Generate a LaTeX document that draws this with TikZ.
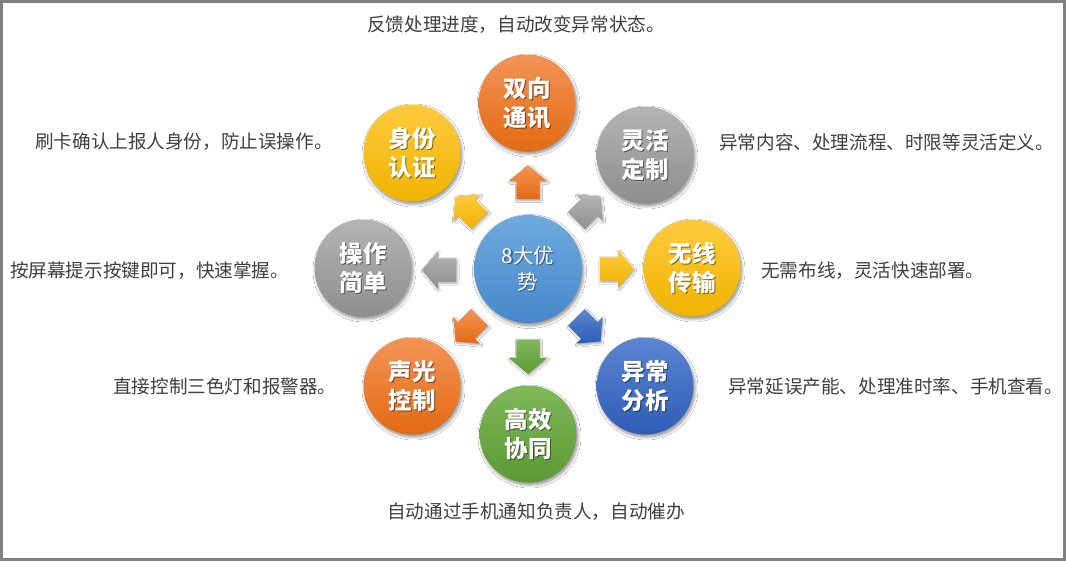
\documentclass[tikz,border=0pt]{standalone}
\usepackage{fontspec}
\setmainfont{Noto Sans CJK SC}
\usetikzlibrary{shapes.arrows,shadows.blur}
\definecolor{txtgray}{HTML}{404040}
\definecolor{framegray}{HTML}{808080}
\definecolor{orT}{HTML}{F39456}\definecolor{orB}{HTML}{E36A12}
\definecolor{grT}{HTML}{B4B4B4}\definecolor{grB}{HTML}{8E8E8E}
\definecolor{yeT}{HTML}{FFCB3E}\definecolor{yeB}{HTML}{EFB300}
\definecolor{blT}{HTML}{5C86D2}\definecolor{blB}{HTML}{2E5CB6}
\definecolor{gnT}{HTML}{80B85A}\definecolor{gnB}{HTML}{5B9A33}
\definecolor{cbT}{HTML}{6FA9DE}\definecolor{cbB}{HTML}{4788CB}
\tikzset{
  x=1pt, y=-1pt,
  orange fill/.style={top color=orT, bottom color=orB},
  gray fill/.style={top color=grT, bottom color=grB},
  yellow fill/.style={top color=yeT, bottom color=yeB},
  blue fill/.style={top color=blT, bottom color=blB},
  green fill/.style={top color=gnT, bottom color=gnB},
  center fill/.style={top color=cbT, bottom color=cbB},
  bubble/.style={circle, minimum size=97pt, inner sep=0pt,
    blur shadow={shadow xshift=1.5pt, shadow yshift=-2.5pt, shadow blur steps=6, shadow opacity=45, shadow blur radius=3pt}},
  bubtext/.style={text=white, align=center, inner sep=0pt,
    font=\fontsize{23.5}{29}\selectfont\bfseries},
  bubshadow/.style={bubtext, text=black, opacity=0.45},
  blockarrow/.style={single arrow, inner xsep=0pt, inner ysep=11.5pt, minimum height=34pt,
    single arrow head extend=7pt, single arrow tip angle=100,
    blur shadow={shadow xshift=1pt, shadow yshift=-1.5pt, shadow blur steps=4, shadow opacity=35, shadow blur radius=2pt}},
  side/.style={text=txtgray, inner sep=0pt, anchor=west, font=\fontsize{18.6}{22}\selectfont},
}
\newcommand\mybubble[4]{%
  \node[bubble, #3] (#1) at (#2) {};
  \node[bubshadow] at ([shift={(1.4,1.4)}]#1.center) {#4};
  \node[bubtext] (#1t) at (#1.center) {#4};
}
\begin{document}
\begin{tikzpicture}
\useasboundingbox (0,0) rectangle (1066,561);
\fill[white] (0,0) rectangle (1066,561);
\draw[framegray, line width=2.6pt] (1.3,1.3) rectangle (1064.7,559.7);

% center
\node[bubble, center fill, minimum size=108pt] (c) at (528,269) {};
\node[text=black, opacity=0.4, align=center, inner sep=0pt, font=\fontsize{20.5}{26}\selectfont] at ([shift={(1.2,1.2)}]c.center) {8大优\\势};
\node[text=white, align=center, inner sep=0pt, font=\fontsize{20.5}{26}\selectfont] (ct) at (c.center) {8大优\\势};

% outer bubbles
\mybubble{b1}{527,103}{orange fill}{双向\\通讯}
\mybubble{b2}{645,155}{gray fill}{灵活\\定制}
\mybubble{b3}{692,268}{yellow fill}{无线\\传输}
\mybubble{b4}{645,386}{blue fill}{异常\\分析}
\mybubble{b5}{528,434}{green fill}{高效\\协同}
\mybubble{b6}{412,386}{orange fill}{声光\\控制}
\mybubble{b7}{363,268}{gray fill}{操作\\简单}
\mybubble{b8}{412,153}{yellow fill}{身份\\认证}

% arrows
\node[blockarrow, orange fill, rotate=90] (a1) at (528,187) {};
\node[blockarrow, gray fill, rotate=45] (a2) at (585,212) {};
\node[blockarrow, yellow fill, rotate=0] (a3) at (612,269) {};
\node[blockarrow, blue fill, rotate=-45] (a4) at (585,326) {};
\node[blockarrow, green fill, rotate=-90] (a5) at (528,352) {};
\node[blockarrow, orange fill, rotate=-135] (a6) at (471,326) {};
\node[blockarrow, gray fill, rotate=180] (a7) at (444,270) {};
\node[blockarrow, yellow fill, rotate=135] (a8) at (471,212) {};

% side texts
\node[side] (t1) at (367,25) {反馈处理进度，自动改变异常状态。};
\node[side] (t2) at (719,142) {异常内容、处理流程、时限等灵活定义。};
\node[side] (t3) at (761,271) {无需布线，灵活快速部署。};
\node[side] (t4) at (728,386) {异常延误产能、处理准时率、手机查看。};
\node[side] (t5) at (387,512) {自动通过手机通知负责人，自动催办};
\node[side] (t6) at (113,386) {直接控制三色灯和报警器。};
\node[side] (t7) at (10,271) {按屏幕提示按键即可，快速掌握。};
\node[side] (t8) at (35,142) {刷卡确认上报人身份，防止误操作。};
\end{tikzpicture}
\end{document}
